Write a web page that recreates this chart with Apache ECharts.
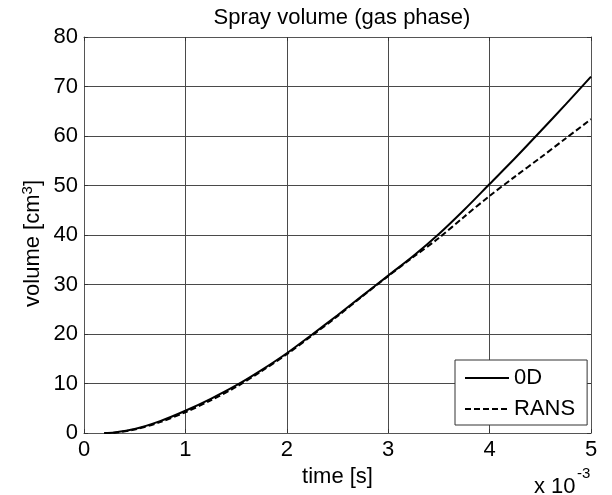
<!DOCTYPE html>
<html>
<head>
<meta charset="utf-8">
<script src="https://cdn.jsdelivr.net/npm/echarts@6/dist/echarts.min.js"></script>
<style>
  html, body { margin: 0; padding: 0; background: #fff; }
  #chart { width: 612px; height: 495px; }
</style>
</head>
<body>
<div id="chart"></div>
<script>
// time in units of 1e-3 s
const timeMs = [0.2, 0.3, 0.5, 0.75, 1.0, 1.25, 1.5, 1.75, 2.0, 2.25, 2.5, 2.75,
                3.0, 3.25, 3.5, 3.75, 4.0, 4.25, 4.5, 4.75, 5.0];
// spray volume [cm^3]
const vol0D = [0, 0.1, 0.8, 2.4, 4.5, 6.9, 9.6, 12.7, 16.1, 19.9, 23.8, 27.8,
               31.8, 35.8, 40.2, 45.1, 50.3, 55.5, 60.9, 66.4, 72.0];
const volRANS = [0, 0.05, 0.7, 2.2, 4.2, 6.6, 9.3, 12.5, 15.9, 19.7, 23.6, 27.7,
                 31.7, 35.6, 39.4, 43.7, 47.9, 51.8, 55.6, 59.5, 63.4];
const xTicks = [0, 1, 2, 3, 4, 5];
const yTicks = [0, 10, 20, 30, 40, 50, 60, 70, 80];

const FONT = '"Liberation Sans", Arial, sans-serif';
const frameColor = '#555';
const gridColor = '#4a4a4a';

const chart = echarts.init(document.getElementById('chart'), null, { renderer: 'canvas' });

const pairs = (xs, ys) => xs.map((x, i) => [x, ys[i]]);

const tickCfg = { show: true, inside: true, length: 4, lineStyle: { color: '#333', width: 1 } };

chart.setOption({
  animation: false,
  backgroundColor: '#fff',
  textStyle: { fontFamily: FONT },
  title: {
    text: 'Spray volume (gas phase)',
    left: 337, top: 2, textAlign: 'center',
    textStyle: { fontFamily: FONT, fontSize: 22, fontWeight: 'normal', color: '#000' }
  },
  grid: { left: 84, right: 21, top: 37, bottom: 62, containLabel: false },
  legend: {
    orient: 'vertical',
    left: 455, top: 360,
    data: ['0D', 'RANS'],
    backgroundColor: '#fff',
    borderColor: '#333', borderWidth: 1, borderRadius: 0,
    padding: [7, 12, 5, 9],
    itemGap: 9,
    itemWidth: 44, itemHeight: 14,
    itemStyle: { opacity: 0, borderWidth: 0 },
    textStyle: { fontFamily: FONT, fontSize: 22, color: '#000' }
  },
  xAxis: [{
    type: 'value', min: 0, max: 5, interval: 1,
    name: 'time [s]', nameLocation: 'middle', nameGap: 22,
    nameTextStyle: { fontFamily: FONT, fontSize: 22, color: '#000' },
    axisLine: { show: true, onZero: false, lineStyle: { color: frameColor, width: 1 } },
    axisTick: tickCfg,
    axisLabel: { fontFamily: FONT, fontSize: 22, color: '#000', margin: 6,
                 formatter: v => xTicks.includes(v) ? String(v) : '' },
    splitLine: { show: true, lineStyle: { color: gridColor, width: 1 } }
  }, {
    type: 'value', min: 0, max: 5, interval: 1, position: 'top',
    axisLine: { show: true, onZero: false, lineStyle: { color: frameColor, width: 1 } },
    axisTick: tickCfg, axisLabel: { show: false }, splitLine: { show: false }
  }],
  yAxis: [{
    type: 'value', min: 0, max: 80, interval: 10,
    axisLine: { show: true, onZero: false, lineStyle: { color: frameColor, width: 1 } },
    axisTick: tickCfg,
    axisLabel: { fontFamily: FONT, fontSize: 22, color: '#000', margin: 6,
                 formatter: v => yTicks.includes(v) ? String(v) : '' },
    splitLine: { show: true, lineStyle: { color: gridColor, width: 1 } }
  }, {
    type: 'value', min: 0, max: 80, interval: 10, position: 'right',
    axisLine: { show: true, onZero: false, lineStyle: { color: frameColor, width: 1 } },
    axisTick: tickCfg, axisLabel: { show: false }, splitLine: { show: false }
  }],
  series: [{
    name: '0D', type: 'line', xAxisIndex: 0, yAxisIndex: 0,
    data: pairs(timeMs, vol0D), smooth: 0.3,
    symbol: 'none', showSymbol: false,
    lineStyle: { color: '#000', width: 2, type: 'solid' },
    itemStyle: { color: '#000' }, z: 3
  }, {
    name: 'RANS', type: 'line', xAxisIndex: 0, yAxisIndex: 0,
    data: pairs(timeMs, volRANS), smooth: 0.3,
    symbol: 'none', showSymbol: false,
    lineStyle: { color: '#000', width: 2, type: [6, 3] },
    itemStyle: { color: '#000' }, z: 4
  }],
  graphic: [{
    type: 'text', left: 20, top: 180, rotation: Math.PI / 2,
    style: {
      text: 'volume [cm{sup|3}]',
      font: '22px ' + FONT, fill: '#000',
      rich: { sup: { fontSize: 15, fontFamily: FONT, verticalAlign: 'top', padding: [0, 0, 10, 0] } }
    }
  }, {
    type: 'text', left: 534, top: 476,
    style: { text: 'x 10', font: '22px ' + FONT, fill: '#000' }
  }, {
    type: 'text', left: 577, top: 466,
    style: { text: '-3', font: '15px ' + FONT, fill: '#000' }
  }]
});
</script>
</body>
</html>
